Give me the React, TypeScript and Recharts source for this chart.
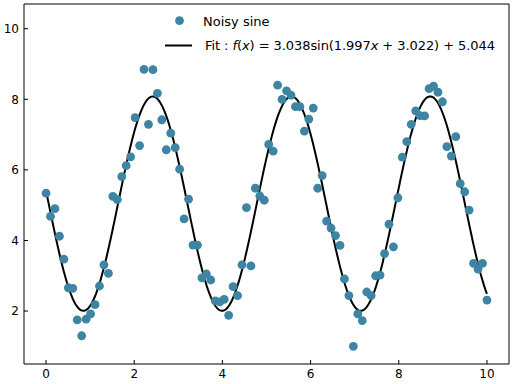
import { ComposedChart, Legend, Line, ReferenceLine, Scatter, XAxis, YAxis } from "recharts";

const FONT = "DejaVu Sans";
const DOT = "#3d85a3";

// noisy samples, evenly spaced over [0, 10]
const X_START = 0;
const X_END = 10;
const noisyY = [
  5.34, 4.68, 4.9, 4.12, 3.47, 2.66, 2.64, 1.75, 1.3, 1.77,
  1.92, 2.18, 2.71, 3.31, 3.07, 5.25, 5.16, 5.81, 6.12, 6.37,
  7.48, 6.69, 8.85, 7.29, 8.84, 8.17, 7.42, 6.57, 7.04, 6.63,
  6.02, 4.61, 5.17, 3.87, 3.87, 2.94, 3.05, 2.88, 2.29, 2.26,
  2.33, 1.88, 2.69, 2.44, 3.31, 4.93, 3.28, 5.48, 5.26, 5.14,
  6.72, 6.53, 8.4, 8.0, 8.24, 8.12, 7.79, 7.79, 7.1, 7.44,
  7.75, 5.48, 5.84, 4.55, 4.35, 4.14, 3.86, 2.91, 2.44, 1.0,
  1.92, 1.73, 2.54, 2.44, 3.0, 3.02, 3.63, 4.46, 3.82, 5.21,
  6.36, 6.8, 7.29, 7.67, 7.54, 7.53, 8.3, 8.37, 8.2, 7.93,
  6.66, 6.39, 6.94, 5.61, 5.38, 4.86, 3.35, 3.19, 3.35, 2.31,
];

// fitted parameters: a*sin(b*x + c) + d
const fitA = 3.038;
const fitB = 1.997;
const fitC = 3.022;
const fitD = 5.044;

const xTicks = [0, 2, 4, 6, 8, 10];
const yTicks = [2, 4, 6, 8, 10];
const X_DOMAIN = [-0.5, 10.5];
const Y_DOMAIN = [0.5, 10.7];

const step = (X_END - X_START) / (noisyY.length - 1);
const scatterData = noisyY.map((y, i) => ({ x: X_START + i * step, y }));

const FIT_SAMPLES = 300;
const fitData = Array.from({ length: FIT_SAMPLES }, (_, i) => {
  const x = X_START + (i * (X_END - X_START)) / (FIT_SAMPLES - 1);
  return { x, y: fitA * Math.sin(fitB * x + fitC) + fitD };
});

const XTick = (props: any) => {
  const { x, y, payload } = props;
  return (
    <g>
      <line x1={x} x2={x} y1={y} y2={y - 4} stroke="#000" strokeWidth={1} />
      <text x={x} y={y + 13.5} textAnchor="middle" fontFamily={FONT} fontSize={12} fill="#000">
        {payload.value}
      </text>
    </g>
  );
};

const YTick = (props: any) => {
  const { x, y, payload } = props;
  return (
    <g>
      <line x1={x} x2={x + 4} y1={y} y2={y} stroke="#000" strokeWidth={1} />
      <text x={x - 5} y={y + 4.3} textAnchor="end" fontFamily={FONT} fontSize={12} fill="#000">
        {payload.value}
      </text>
    </g>
  );
};

const Dot = (props: any) => <circle cx={props.cx} cy={props.cy} r={4.4} fill={DOT} />;

const LegendBox = () => (
  <svg width={512} height={60} style={{ display: "block" }}>
    <circle cx={179.5} cy={20.7} r={4.4} fill={DOT} />
    <text x={203} y={25.7} fontFamily={FONT} fontSize={13} fill="#000">
      Noisy sine
    </text>
    <line x1={165} x2={192} y1={45.5} y2={45.5} stroke="#000" strokeWidth={2} />
    <text x={205} y={49.5} fontFamily={FONT} fontSize={13} fill="#000" textLength={290} lengthAdjust="spacing">
      Fit : <tspan fontStyle="italic">f</tspan>(<tspan fontStyle="italic">x</tspan>) = {fitA.toFixed(3)}sin({fitB.toFixed(3)}
      <tspan fontStyle="italic">x</tspan> + {fitC.toFixed(3)}) + {fitD.toFixed(3)}
    </text>
  </svg>
);

const frameLine = { stroke: "#000", strokeWidth: 1 };

export default function App() {
  return (
    <div style={{ position: "absolute", left: 0, top: 0, width: 512, height: 384, background: "#fff" }}>
      <ComposedChart width={512} height={384} margin={{ top: 4, right: 3, bottom: 0, left: 0 }}>
        <XAxis
          dataKey="x"
          type="number"
          domain={X_DOMAIN}
          ticks={xTicks}
          interval={0}
          height={20}
          tickSize={0}
          tickMargin={0}
          tickLine={false}
          axisLine={frameLine}
          tick={XTick}
          allowDataOverflow
        />
        <YAxis
          dataKey="y"
          type="number"
          domain={Y_DOMAIN}
          ticks={yTicks}
          interval={0}
          width={24}
          tickSize={0}
          tickMargin={0}
          tickLine={false}
          axisLine={frameLine}
          tick={YTick}
          allowDataOverflow
        />
        {/* top and right spines close the box */}
        <ReferenceLine y={Y_DOMAIN[1]} stroke="#000" strokeWidth={1} ifOverflow="visible" />
        <ReferenceLine x={X_DOMAIN[1]} stroke="#000" strokeWidth={1} ifOverflow="visible" />
        <Scatter data={scatterData} dataKey="y" shape={Dot} isAnimationActive={false} />
        <Line data={fitData} dataKey="y" type="linear" dot={false} stroke="#000" strokeWidth={2} isAnimationActive={false} />
        <Legend
          layout="horizontal"
          verticalAlign="middle"
          align="center"
          content={LegendBox}
          wrapperStyle={{ left: 0, top: 0, width: 512, height: 60, pointerEvents: "none" }}
        />
      </ComposedChart>
    </div>
  );
}
